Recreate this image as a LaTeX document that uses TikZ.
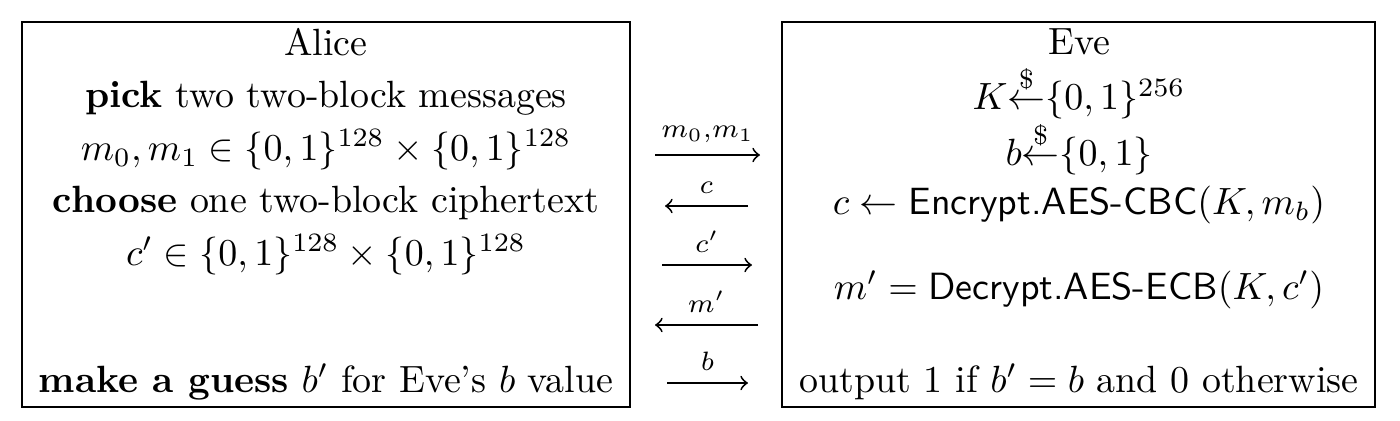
\documentclass[tikz,border=0pt]{standalone}
\usepackage{amsmath}
\usepackage{amssymb}
\usetikzlibrary{positioning,fit}
\newcommand{\rnd}{\overset{\$}{\leftarrow}}

\begin{document}
\begin{tikzpicture}[x=0.2635pt, y=-0.2635pt,
    partybox/.style={draw=black, line width=0.5pt, inner sep=0pt},
    row/.style={anchor=center, inner sep=0pt},
    msg/.style={-to, line width=0.5pt},
    msglabel/.style={above=3pt, inner sep=0pt},
  ]
  \useasboundingbox (0,0) rectangle (1400,420);

  % =================== ALICE ===================
  \node[partybox, fit={(22,22)(630,407)}] (alicebox) {};
  \node[row] (alice) at (326,42) {Alice};
  \node[row] (pick) at (326,98) {\textbf{pick} two two-block messages};
  \node[row] (msgs) at (326,150) {$m_0,m_1\in\{0,1\}^{128}\times\{0,1\}^{128}$};
  \node[row] (choose) at (326,203) {\textbf{choose} one two-block ciphertext};
  \node[row] (ctext) at (326,255) {$c'\in\{0,1\}^{128}\times\{0,1\}^{128}$};
  \node[row] (guess) at (326,382) {\textbf{make a guess} $b'$ for Eve's $b$ value};

  % =================== EVE ===================
  \node[partybox, fit={(782,22)(1375,407)}] (evebox) {};
  \node[row] (eve) at (1079,42) {Eve};
  \node[row] (keygen) at (1079,92) {$K{\rnd}\{0,1\}^{256}$};
  \node[row] (bitgen) at (1079,148) {$b{\rnd}\{0,1\}$};
  \node[row] (enc) at (1079,205) {$c\leftarrow\textsf{Encrypt.AES-CBC}(K,m_b)$};
  \node[row] (dec) at (1079,290) {$m'=\textsf{Decrypt.AES-ECB}(K,c')$};
  \node[row] (output) at (1079,382) {output 1 if $b'=b$ and 0 otherwise};

  % =================== MESSAGES ===================
  \coordinate (m0a) at (655,155); \coordinate (m0b) at (760,155);
  \coordinate (ca) at (665,206);  \coordinate (cb) at (748,206);
  \coordinate (cpa) at (662,265); \coordinate (cpb) at (752,265);
  \coordinate (mpa) at (655,325); \coordinate (mpb) at (758,325);
  \coordinate (ba) at (667,383);  \coordinate (bb) at (748,383);

  \draw[msg] (m0a) -- node[msglabel] {$\scriptstyle m_0,m_1$} (m0b);
  \draw[msg] (cb) -- node[msglabel] {$\scriptstyle c$} (ca);
  \draw[msg] (cpa) -- node[msglabel] {$\scriptstyle c'$} (cpb);
  \draw[msg] (mpb) -- node[msglabel] {$\scriptstyle m'$} (mpa);
  \draw[msg] (ba) -- node[msglabel] {$\scriptstyle b$} (bb);
\end{tikzpicture}
\end{document}
